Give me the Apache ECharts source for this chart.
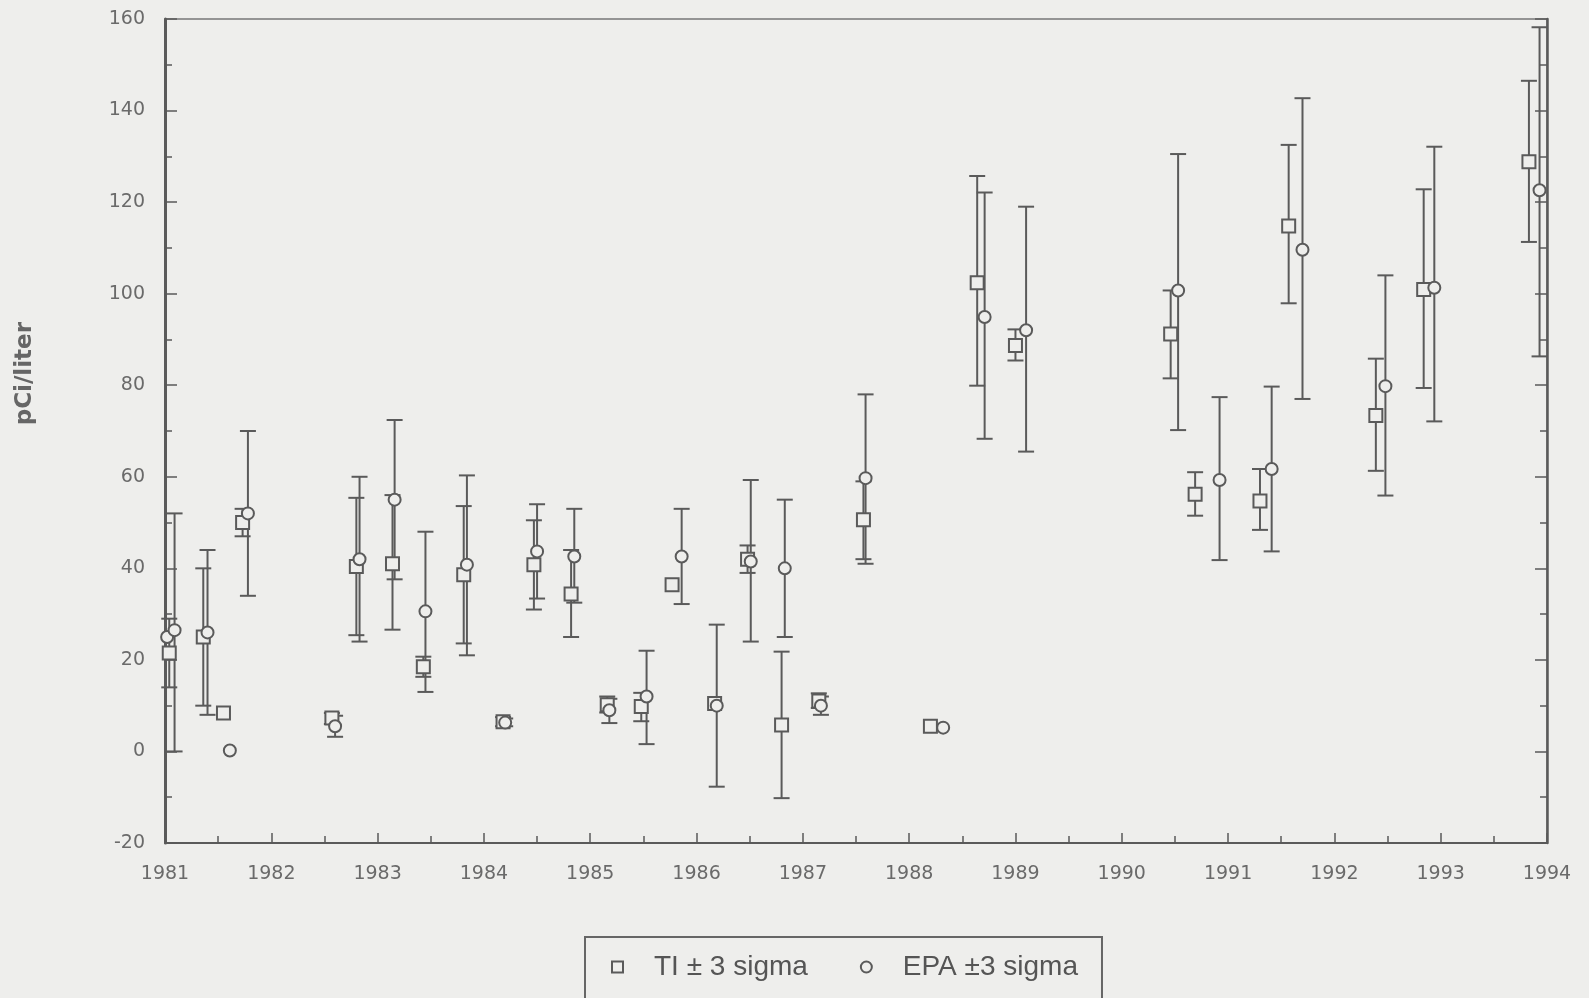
<!DOCTYPE html>
<html>
<head>
<meta charset="utf-8">
<script src="https://cdn.jsdelivr.net/npm/echarts@6/dist/echarts.min.js"></script>
<style>
  html, body { margin: 0; padding: 0; background: #eeeeec; }
  #chart { width: 1589px; height: 998px; }
</style>
</head>
<body>
<div id="chart"></div>
<script>
// TI measurements (square markers), +/- 3 sigma
const tiDates  = [1981.04, 1981.36, 1981.55, 1981.73, 1982.57, 1982.80, 1983.14, 1983.43, 1983.81, 1984.18,
                  1984.47, 1984.82, 1985.16, 1985.48, 1985.77, 1986.17, 1986.48, 1986.80, 1987.15, 1987.57,
                  1988.20, 1988.64, 1989.00, 1990.46, 1990.69, 1991.30, 1991.57, 1992.39, 1992.84, 1993.83];
const tiValues = [21.5, 25, 8.4, 50, 7.3, 40.4, 41, 18.5, 38.6, 6.5,
                  40.8, 34.4, 10.2, 9.8, 36.4, 10.5, 42, 5.8, 11, 50.6,
                  5.5, 102.4, 88.7, 91.2, 56.2, 54.7, 114.8, 73.4, 100.9, 128.8];
const tiLow    = [14, 10, null, 47, 6, 25.4, 26.6, 16.3, 23.6, 5.5,
                  31, 25, 8.5, 6.6, null, null, 39, -10.2, 9.5, 42,
                  null, 79.9, 85.4, 81.5, 51.5, 48.4, 97.9, 61.3, 79.4, 111.3];
const tiHigh   = [29, 40, null, 53, 8.4, 55.4, 56, 20.7, 53.6, 7.5,
                  50.5, 44, 12, 12.8, null, null, 45, 21.8, 12.7, 59,
                  null, 125.7, 92.2, 100.7, 61, 61.7, 132.5, 85.8, 122.8, 146.5];

// EPA measurements (circle markers), +/- 3 sigma
const epaDates  = [1981.02, 1981.09, 1981.40, 1981.61, 1981.78, 1982.60, 1982.83, 1983.16, 1983.45, 1983.84,
                   1984.20, 1984.50, 1984.85, 1985.18, 1985.53, 1985.86, 1986.19, 1986.51, 1986.83, 1987.17,
                   1987.59, 1988.32, 1988.71, 1989.10, 1990.53, 1990.92, 1991.41, 1991.70, 1992.48, 1992.94, 1993.93];
const epaValues = [25, 26.5, 26, 0.2, 52, 5.5, 42, 55, 30.6, 40.8,
                   6.3, 43.7, 42.6, 9, 12, 42.6, 10, 41.5, 40, 10,
                   59.7, 5.2, 94.9, 92, 100.7, 59.3, 61.7, 109.6, 79.8, 101.3, 122.6];
const epaLow    = [null, 0, 8, null, 34, 3.2, 24, 37.6, 13, 21,
                   5.5, 33.4, 32.5, 6.2, 1.6, 32.2, -7.7, 24, 25, 8,
                   41, null, 68.3, 65.5, 70.2, 41.8, 43.7, 77, 55.9, 72.1, 86.3];
const epaHigh   = [null, 52, 44, null, 70, 7.8, 60, 72.4, 48, 60.3,
                   7.2, 54, 53, 11.5, 22, 53, 27.7, 59.3, 55, 12,
                   78, null, 122.1, 119, 130.5, 77.4, 79.7, 142.7, 104, 132.1, 158.2];

const yTicks = [-20, 0, 20, 40, 60, 80, 100, 120, 140, 160];

const ink = '#5a5a5a';
const paper = '#eeeeec';

function errorBars(name, dates, low, high) {
  const data = [];
  dates.forEach((d, i) => {
    if (low[i] != null) data.push([d, low[i], high[i]]);
  });
  return {
    type: 'custom',
    name: name,
    silent: true,
    z: 2,
    encode: { x: 0, y: [1, 2] },
    data: data,
    renderItem: (params, api) => {
      const top = api.coord([api.value(0), api.value(2)]);
      const bot = api.coord([api.value(0), api.value(1)]);
      const half = 8;
      const style = { stroke: ink, lineWidth: 2 };
      return {
        type: 'group',
        children: [
          { type: 'line', shape: { x1: top[0], y1: top[1], x2: bot[0], y2: bot[1] }, style: style },
          { type: 'line', shape: { x1: top[0] - half, y1: top[1], x2: top[0] + half, y2: top[1] }, style: style },
          { type: 'line', shape: { x1: bot[0] - half, y1: bot[1], x2: bot[0] + half, y2: bot[1] }, style: style }
        ]
      };
    }
  };
}

const chart = echarts.init(document.getElementById('chart'));

const labelFont = { fontFamily: 'DejaVu Sans', fontSize: 19, color: '#6a6a6a' };

chart.setOption({
  backgroundColor: paper,
  animation: false,
  grid: {
    left: 165, right: 42, top: 19, bottom: 155,
    show: true, borderColor: '#777', borderWidth: 1.5, backgroundColor: 'transparent'
  },
  xAxis: {
    type: 'value', min: 1981, max: 1994, interval: 1,
    axisLine: { show: true, onZero: false, lineStyle: { color: ink, width: 2 } },
    axisTick: { show: true, inside: true, length: 10, lineStyle: { color: ink, width: 1.5 } },
    minorTick: { show: true, splitNumber: 2, length: 7, lineStyle: { color: ink, width: 1.5 } },
    splitLine: { show: false },
    axisLabel: Object.assign({ margin: 22, formatter: v => String(v) }, labelFont)
  },
  yAxis: [{
    type: 'value', min: yTicks[0], max: yTicks[yTicks.length - 1], interval: 20,
    axisLine: { show: true, lineStyle: { color: ink, width: 3 } },
    axisTick: { show: true, inside: true, length: 12, lineStyle: { color: ink, width: 1.5 } },
    minorTick: { show: true, splitNumber: 2, length: 7, lineStyle: { color: ink, width: 1.5 } },
    splitLine: { show: false },
    axisLabel: Object.assign({ margin: 20 }, labelFont)
  }, {
    type: 'value', position: 'right', min: yTicks[0], max: yTicks[yTicks.length - 1], interval: 20,
    axisLine: { show: true, lineStyle: { color: ink, width: 2.5 } },
    axisTick: { show: true, inside: true, length: 12, lineStyle: { color: ink, width: 1.5 } },
    minorTick: { show: true, splitNumber: 2, length: 7, lineStyle: { color: ink, width: 1.5 } },
    splitLine: { show: false },
    axisLabel: { show: false }
  }],
  legend: {
    left: 585, top: 937,
    padding: [16, 24, 40, 26],
    borderColor: '#666', borderWidth: 2,
    itemGap: 52, itemWidth: 11, itemHeight: 11,
    textStyle: { fontFamily: 'Liberation Sans', fontSize: 28, color: '#555', padding: [0, 0, 0, 26] },
    data: [
      { name: 'TI ± 3 sigma', icon: 'rect', itemStyle: { color: paper, borderColor: ink, borderWidth: 2 } },
      { name: 'EPA ±3 sigma', icon: 'circle', itemStyle: { color: paper, borderColor: ink, borderWidth: 2 } }
    ]
  },
  graphic: [{
    type: 'text', left: 14, top: 322, rotation: Math.PI / 2, silent: true,
    style: { text: 'pCi/liter', font: 'bold 23px "DejaVu Sans"', fill: '#666' }
  }],
  series: [
    errorBars('TI bars', tiDates, tiLow, tiHigh),
    errorBars('EPA bars', epaDates, epaLow, epaHigh),
    {
      type: 'scatter', name: 'TI ± 3 sigma', z: 3,
      symbol: 'rect', symbolSize: 13,
      itemStyle: { color: paper, borderColor: ink, borderWidth: 2, opacity: 1 },
      data: tiDates.map((d, i) => [d, tiValues[i]])
    },
    {
      type: 'scatter', name: 'EPA ±3 sigma', z: 4,
      symbol: 'circle', symbolSize: 12,
      itemStyle: { color: paper, borderColor: ink, borderWidth: 2, opacity: 1 },
      data: epaDates.map((d, i) => [d, epaValues[i]])
    }
  ]
});
</script>
</body>
</html>
